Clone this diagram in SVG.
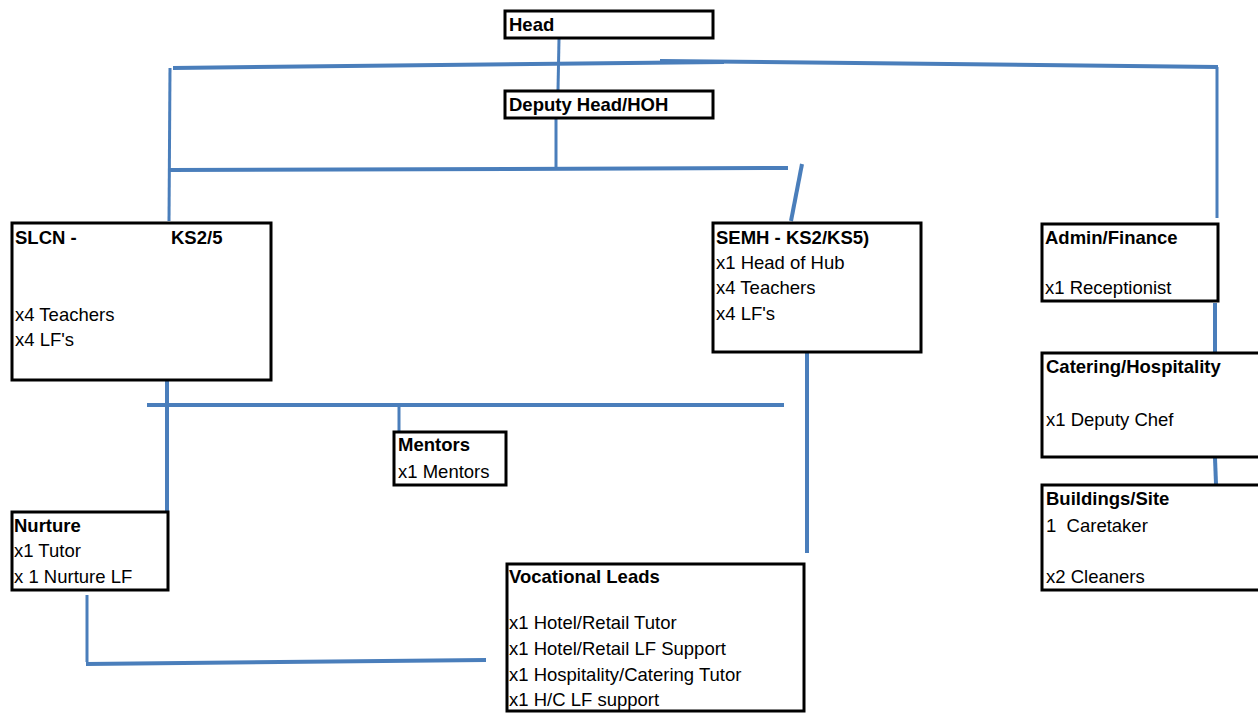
<svg xmlns="http://www.w3.org/2000/svg" width="1258" height="713" viewBox="0 0 1258 713">
  <style>
    .box { fill: #ffffff; stroke: #000000; stroke-width: 3; }
    .link { stroke: #4a7ebb; stroke-width: 4; fill: none; stroke-linecap: butt; }
    .thin { stroke-width: 3; }
    text { font-family: "Liberation Sans", Arial, sans-serif; font-size: 18.5px; fill: #000000; }
    .h { font-weight: bold; }
  </style>
  <rect x="0" y="0" width="1258" height="713" fill="#ffffff"/>

  <!-- connectors -->
  <g id="connectors">
    <line class="link thin" x1="559" y1="39" x2="558" y2="90"/>
    <line class="link" x1="173" y1="68" x2="724" y2="62"/>
    <line class="link" x1="660" y1="61" x2="1218" y2="67"/>
    <line class="link thin" x1="1217" y1="67" x2="1217" y2="218"/>
    <line class="link thin" x1="170" y1="68" x2="169" y2="221"/>
    <line class="link thin" x1="556" y1="119" x2="556" y2="169"/>
    <line class="link" x1="170" y1="170" x2="788" y2="168"/>
    <line class="link" x1="802" y1="164" x2="791" y2="221"/>
    <line class="link" x1="807" y1="353" x2="807" y2="553"/>
    <line class="link" x1="167" y1="381" x2="167" y2="516"/>
    <line class="link" x1="147" y1="405" x2="784" y2="405"/>
    <line class="link thin" x1="399" y1="405" x2="399" y2="431"/>
    <line class="link thin" x1="87" y1="595" x2="87" y2="662"/>
    <line class="link" x1="86" y1="664" x2="486" y2="660"/>
    <line class="link" x1="1215" y1="303" x2="1215" y2="353"/>
    <line class="link" x1="1215" y1="458" x2="1216" y2="484"/>
  </g>

  <g id="head">
    <rect class="box" x="505" y="11" width="208" height="27"/>
    <text class="h" x="509" y="31">Head</text>
  </g>

  <g id="deputy-head">
    <rect class="box" x="505" y="91" width="208" height="27"/>
    <text class="h" x="509" y="111">Deputy Head/HOH</text>
  </g>

  <g id="slcn">
    <rect class="box" x="12" y="223" width="259" height="157"/>
    <text class="h" x="15" y="244">SLCN -</text>
    <text class="h" x="171" y="244">KS2/5</text>
    <text x="15" y="321">x4 Teachers</text>
    <text x="15" y="346">x4 LF's</text>
  </g>

  <g id="semh">
    <rect class="box" x="713" y="223" width="208" height="129"/>
    <text class="h" x="716" y="244">SEMH - KS2/KS5)</text>
    <text x="716" y="269">x1 Head of Hub</text>
    <text x="716" y="294">x4 Teachers</text>
    <text x="716" y="320">x4 LF's</text>
  </g>

  <g id="admin-finance">
    <rect class="box" x="1042" y="224" width="176" height="77"/>
    <text class="h" x="1045" y="244">Admin/Finance</text>
    <text x="1045" y="294">x1 Receptionist</text>
  </g>

  <g id="catering-hospitality">
    <rect class="box" x="1042" y="353" width="222" height="104"/>
    <text class="h" x="1046" y="373">Catering/Hospitality</text>
    <text x="1046" y="426">x1 Deputy Chef</text>
  </g>

  <g id="buildings-site">
    <rect class="box" x="1042" y="485" width="222" height="105"/>
    <text class="h" x="1046" y="505">Buildings/Site</text>
    <text x="1046" y="532" xml:space="preserve">1  Caretaker</text>
    <text x="1046" y="583">x2 Cleaners</text>
  </g>

  <g id="mentors">
    <rect class="box" x="394" y="432" width="112" height="53"/>
    <text class="h" x="398" y="451">Mentors</text>
    <text x="398" y="478">x1 Mentors</text>
  </g>

  <g id="nurture">
    <rect class="box" x="12" y="512" width="156" height="78"/>
    <text class="h" x="14" y="532">Nurture</text>
    <text x="14" y="557">x1 Tutor</text>
    <text x="14" y="583">x 1 Nurture LF</text>
  </g>

  <g id="vocational-leads">
    <rect class="box" x="507" y="564" width="297" height="147"/>
    <text class="h" x="509" y="583">Vocational Leads</text>
    <text x="509" y="629">x1 Hotel/Retail Tutor</text>
    <text x="509" y="655">x1 Hotel/Retail LF Support</text>
    <text x="509" y="681">x1 Hospitality/Catering Tutor</text>
    <text x="509" y="706">x1 H/C LF support</text>
  </g>
</svg>
